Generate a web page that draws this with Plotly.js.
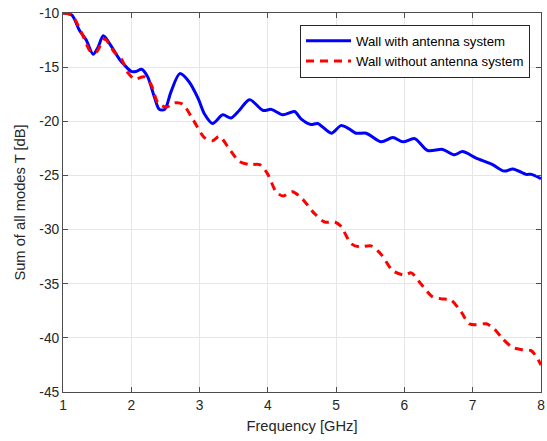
<!DOCTYPE html>
<html>
<head>
<meta charset="utf-8">
<script src="https://cdn.plot.ly/plotly-3.0.1.min.js"></script>
<style>html,body{margin:0;padding:0;background:#fff;}</style>
</head>
<body>
<div id="chart" style="width:547px;height:441px;"></div>
<script>
const withFreq = [1.0,1.13,1.24,1.34,1.44,1.51,1.59,1.68,1.75,1.83,1.90,2.0,2.07,2.15,2.24,2.34,2.41,2.49,2.58,2.71,2.84,2.98,3.07,3.19,3.34,3.46,3.58,3.73,3.93,4.05,4.22,4.39,4.49,4.63,4.73,4.93,5.07,5.19,5.29,5.44,5.66,5.83,5.98,6.15,6.34,6.56,6.73,6.85,7.05,7.29,7.46,7.59,7.78,7.86,8.0];
const withVals = [-10.0,-10.2,-11.6,-12.5,-13.8,-13.2,-12.1,-12.8,-13.5,-14.3,-14.8,-15.4,-15.4,-15.2,-15.9,-17.8,-18.9,-18.9,-17.3,-15.6,-16.3,-17.9,-19.3,-20.2,-19.4,-19.7,-19.0,-18.0,-19.0,-18.9,-19.4,-19.1,-19.8,-20.3,-20.2,-21.1,-20.4,-20.7,-21.1,-21.1,-21.9,-21.5,-21.9,-21.6,-22.7,-22.6,-23.1,-22.8,-23.4,-24.0,-24.6,-24.4,-24.9,-24.9,-25.3];

const withoutFreq = [1.0,1.13,1.27,1.41,1.49,1.61,1.75,1.86,1.95,2.05,2.19,2.29,2.39,2.51,2.63,2.75,2.90,3.07,3.19,3.29,3.44,3.58,3.73,3.88,4.0,4.12,4.22,4.36,4.51,4.68,4.83,4.98,5.07,5.22,5.34,5.51,5.66,5.83,6.0,6.10,6.24,6.41,6.54,6.68,6.83,6.95,7.05,7.20,7.32,7.44,7.59,7.73,7.86,8.0];
const withoutVals = [-10.0,-10.2,-11.8,-13.6,-13.6,-12.4,-13.6,-14.3,-15.5,-16.1,-15.9,-16.6,-18.3,-18.7,-18.3,-18.4,-19.8,-21.5,-21.8,-21.4,-22.6,-23.7,-24.0,-24.0,-24.9,-26.5,-26.9,-26.5,-27.2,-28.5,-29.3,-29.3,-29.7,-31.3,-31.6,-31.5,-32.3,-33.8,-34.2,-34.0,-35.0,-36.2,-36.4,-36.5,-37.6,-38.7,-38.8,-38.7,-39.2,-40.1,-40.9,-41.1,-41.2,-42.5];

const xTicks = [1,2,3,4,5,6,7,8];
const yTicks = [-10,-15,-20,-25,-30,-35,-40,-45];
const seriesNames = ['Wall with antenna system','Wall without antenna system'];

const traces = [
  {x: withFreq, y: withVals, name: seriesNames[0], type: 'scatter', mode: 'lines',
   line: {color: '#0000ff', width: 3, shape: 'spline', smoothing: 0.8}},
  {x: withoutFreq, y: withoutVals, name: seriesNames[1], type: 'scatter', mode: 'lines',
   line: {color: '#ff0000', width: 3, dash: '8px,6px', shape: 'spline', smoothing: 0.8}}
];

const axisCommon = {
  showline: true, linecolor: '#4d4d4d', linewidth: 1, mirror: 'ticks',
  ticks: 'inside', ticklen: 5, tickcolor: '#4d4d4d', tickwidth: 1,
  showgrid: true, gridcolor: '#e6e6e6', gridwidth: 1, zeroline: false,
  tickfont: {family: 'Liberation Sans, Arial, sans-serif', size: 13.8, color: '#262626'}
};

const layout = {
  width: 547, height: 441,
  margin: {l: 63, r: 6, t: 13, b: 49},
  paper_bgcolor: '#ffffff', plot_bgcolor: '#ffffff',
  font: {family: 'Liberation Sans, Arial, sans-serif', size: 13, color: '#262626'},
  xaxis: Object.assign({}, axisCommon, {
    range: [1, 8], tickvals: xTicks, ticktext: xTicks.map(String),
    title: {text: 'Frequency [GHz]', font: {size: 14.7, color: '#262626'}, standoff: 9}
  }),
  yaxis: Object.assign({}, axisCommon, {
    range: [-45, -10], tickvals: yTicks, ticktext: yTicks.map(String),
    title: {text: 'Sum of all modes T [dB]', font: {size: 14.7, color: '#262626'}, standoff: 10}
  }),
  showlegend: true,
  legend: {
    x: 0.977, y: 0.969, xanchor: 'right', yanchor: 'top',
    bgcolor: '#ffffff', bordercolor: '#262626', borderwidth: 1,
    font: {size: 13.2, color: '#000000'}, tracegroupgap: 0, itemwidth: 45
  }
};

Plotly.newPlot('chart', traces, layout, {displayModeBar: false, staticPlot: true});
</script>
</body>
</html>
